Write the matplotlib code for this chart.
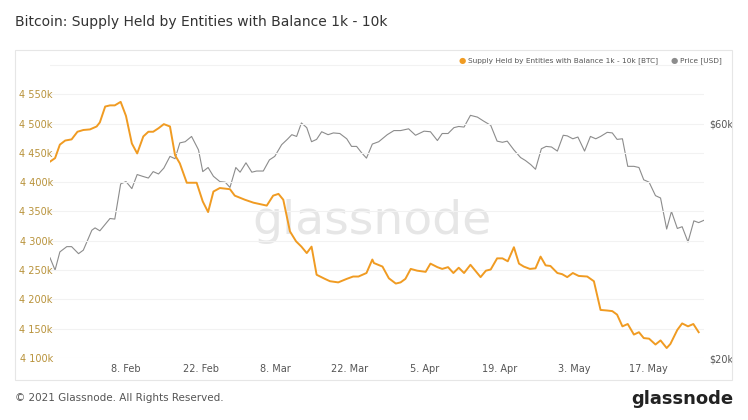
import matplotlib
matplotlib.use("Agg")
import matplotlib.pyplot as plt
import datetime as dt

base = dt.datetime(2021, 2, 8)
supply_days = [-14.25,-13.3,-12.4,-11.4,-10.2,-9.1,-8,-6.75,-5.5,-4.9,-3.9,-3,-2.1,-1,0,1.1,2.1,3.25,4.2,5.1,6.1,7.1,8.25,9.2,10.1,11.4,13.25,14.4,15.4,16.4,17.6,19.5,20.4,22.3,23.9,26.4,27.6,28.6,29.5,30.75,31.9,32.9,33.9,34.8,35.75,37.3,38.25,39.8,41.4,42.6,43.6,45.1,46.2,46.5,48.1,49.3,50.6,51.5,52.4,53.4,54.6,56.2,57.1,58.4,59.3,60.4,61.4,62.4,63.4,64.6,65.6,66.5,67.5,68.4,69.6,70.6,71.6,72.75,73.7,74.6,75.75,76.8,77.75,78.7,79.6,80.9,81.8,82.75,83.8,84.9,86.5,87.75,89,90.25,91.2,92.1,93.1,94.1,95.25,96.2,97.1,98.1,99.3,100.25,101.4,102.1,103.4,104.3,105.4,106.4,107.4]
supply_k = [4435,4441,4464,4471,4473,4486,4489,4490,4495,4502,4529,4531,4531,4537,4513,4466,4449,4478,4486,4486,4492,4499,4495,4446,4432,4399,4399,4367,4349,4384,4390,4388,4377,4370,4365,4360,4377,4380,4370,4316,4299,4290,4279,4290,4242,4235,4231,4229,4235,4239,4239,4245,4268,4262,4256,4236,4227,4229,4235,4252,4249,4247,4261,4255,4252,4255,4245,4254,4245,4259,4248,4238,4249,4251,4270,4270,4265,4289,4261,4256,4252,4253,4273,4258,4257,4245,4243,4238,4245,4240,4239,4231,4182,4181,4180,4174,4154,4158,4140,4144,4134,4133,4123,4130,4117,4124,4148,4159,4154,4158,4144]
price_days = [-14.25,-13.3,-12.4,-11.1,-10.2,-8.9,-8,-6.4,-5.8,-4.9,-3,-2.1,-1,0,1.1,2.1,3.1,4.2,5.1,6.1,7.1,8.25,9.2,10.1,11.1,12.3,13.6,14.4,15.4,16.4,17.6,18.6,19.5,20.6,21.4,22.5,23.6,24.5,25.75,26.9,27.9,29.2,30.25,31.1,32,32.9,33.9,34.8,35.75,36.7,37.9,38.9,40.1,41.4,42.3,43.25,44.2,45.1,46.2,47.4,49,50.25,51.5,53,54.3,55.9,57.1,58.4,59.3,60.4,61.5,62.4,63.4,64.6,65.9,67.1,68.4,69.6,70.6,71.5,72.75,74,74.9,75.9,76.8,77.9,78.8,79.8,80.9,82,82.75,83.8,84.75,86,87.1,88.1,89,90.25,91.2,92.1,93.1,94.1,95.25,96.2,97.1,98.1,99.3,100.25,101.4,102.3,103.4,104.3,105.4,106.5,107.4,108.4]
price_k = [37.1,35.0,38.1,39.0,39.0,37.8,38.4,41.8,42.2,41.7,43.8,43.7,49.7,50.1,48.9,51.3,51.0,50.7,51.8,51.4,52.4,54.4,54.0,56.7,56.9,57.8,55.5,51.8,52.5,51.0,50.1,50.0,49.1,52.5,51.7,53.3,51.7,51.9,51.9,53.8,54.4,56.4,57.3,58.1,57.8,60.1,59.3,56.9,57.3,58.6,58.1,58.4,58.3,57.4,56.1,56.1,55.0,54.1,56.5,56.9,58.1,58.8,58.8,59.1,58.0,58.7,58.6,57.1,58.3,58.3,59.3,59.5,59.4,61.4,61.1,60.4,59.7,57.0,56.8,57.0,55.5,54.2,53.7,53.0,52.2,55.7,56.1,56.0,55.3,58.0,57.9,57.4,57.7,55.3,57.8,57.4,57.8,58.5,58.4,57.3,57.4,52.7,52.7,52.5,50.4,50.0,47.7,47.3,42.0,45.0,42.1,42.4,39.8,43.4,43.1,43.5]
left_ticks = [4100,4150,4200,4250,4300,4350,4400,4450,4500,4550]
x_tick_labels = ["8. Feb","22. Feb","8. Mar","22. Mar","5. Apr","19. Apr","3. May","17. May"]

ORANGE = "#f09b22"
GRAY = "#8c8c8c"
TXT = "#b8923a"

fig = plt.figure(figsize=(7.48, 4.2), dpi=100)
fig.patches.append(plt.Rectangle((15/748, 40/420), 717/748, 330/420, transform=fig.transFigure,
                                 fill=False, edgecolor="#e6e6e6", lw=0.8))
ax = fig.add_axes([50/748, 62/420, 654/748, 296/420])
ax2 = ax.twinx()
sd = [base + dt.timedelta(days=d) for d in supply_days]
pd_ = [base + dt.timedelta(days=d) for d in price_days]
ax2.plot(pd_, price_k, color=GRAY, lw=0.8)
ax.plot(sd, supply_k, color=ORANGE, lw=1.4, zorder=5)
ax.set_zorder(ax2.get_zorder() + 1)
ax.patch.set_visible(False)

ax.set_ylim(4100, 4605)
ax2.set_ylim(20, 70.5)
ax.set_xlim(base + dt.timedelta(days=-14.25), base + dt.timedelta(days=108.4))
ax.set_yticks(left_ticks)
ax.set_yticklabels([f"4 {v-4000:03d}k" for v in left_ticks], color=TXT, fontsize=7)
ax2.set_yticks([20, 60])
ax2.set_yticklabels(["$20k", "$60k"], color="#555555", fontsize=7)
xt = [base + dt.timedelta(days=14*i) for i in range(8)]
ax.set_xticks(xt)
ax.set_xticklabels(x_tick_labels, fontsize=7, color="#555555")
for a in (ax, ax2):
    for s in a.spines.values():
        s.set_visible(False)
    a.tick_params(length=0, pad=4)
ax.tick_params(axis="y", pad=-2)
for v in left_ticks + [4600]:
    ax.axhline(v, color="#f2f2f2", lw=0.8, zorder=0)

fig.text(372/748, 1-222/420, "glassnode", fontsize=34, color="#e6e6e6", ha="center", va="center", zorder=0)
fig.text(15/748, 1-22/420, "Bitcoin: Supply Held by Entities with Balance 1k - 10k", fontsize=10,
         color="#333333", va="center", fontweight="medium")
fig.text(15/748, 1-398/420, "© 2021 Glassnode. All Rights Reserved.", fontsize=7.5, color="#555555", va="center")
fig.text(733/748, 1-399/420, "glassnode", fontsize=13, color="#222222", ha="right", va="center", fontweight="bold")
# legend
fig.text(462/748, 1-61/420, "●", fontsize=6, color=ORANGE, va="center", ha="center")
fig.text(468/748, 1-61/420, "Supply Held by Entities with Balance 1k - 10k [BTC]", fontsize=5.3, color="#555555", va="center")
fig.text(674/748, 1-61/420, "●", fontsize=6, color=GRAY, va="center", ha="center")
fig.text(680/748, 1-61/420, "Price [USD]", fontsize=5.3, color="#555555", va="center")
fig.savefig("out.png", dpi=100)
